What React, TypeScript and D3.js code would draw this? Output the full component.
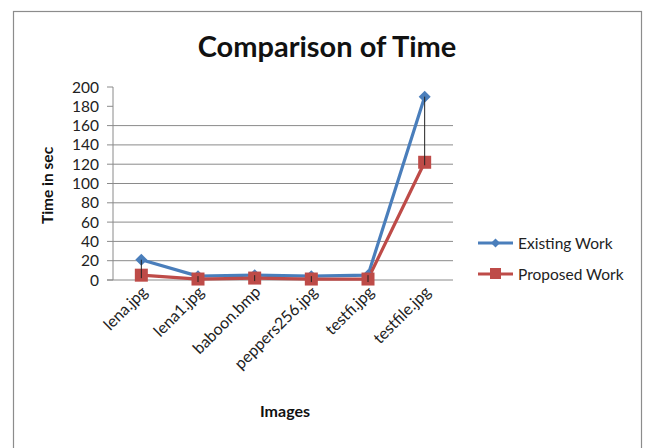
import React from "react";
import * as d3 from "d3";

const categories = ["lena.jpg", "lena1.jpg", "baboon.bmp", "peppers256.jpg", "testfi.jpg", "testfile.jpg"];
const existingWork = [21, 4, 5, 4, 5, 190];
const proposedWork = [5, 1, 2, 1, 1, 122];
const yTicks = [0, 20, 40, 60, 80, 100, 120, 140, 160, 180, 200];
const gridTicks = [20, 40, 60, 80, 100, 120, 140, 160];

const W = 648;
const H = 448;
const left = 113;
const right = 453;
const top = 87;
const bottom = 280;
const font = "Lato, 'Open Sans', sans-serif";
const blue = "#4A7EBB";
const red = "#BE4B48";

export default function App() {
  const x = d3.scaleBand<string>().domain(categories).range([left, right]);
  const y = d3.scaleLinear().domain([0, 200]).range([bottom, top]);
  const cx = (c: string) => (x(c) ?? 0) + x.bandwidth() / 2;
  const line = d3
    .line<number>()
    .x((_, i) => cx(categories[i]))
    .y((d) => y(d));
  const diamond = (px: number, py: number, r: number) =>
    `M${px},${py - r}L${px + r},${py}L${px},${py + r}L${px - r},${py}Z`;

  return (
    <svg width={W} height={H} style={{ position: "absolute", left: 0, top: 0, background: "#fff" }}>
      <rect x={0} y={0} width={W} height={H} fill="#fff" />
      <rect x={13.5} y={11.5} width={628} height={460} fill="none" stroke="#8c8c8c" strokeWidth={1.2} />
      <text x={327} y={57} textAnchor="middle" fontFamily={font} fontWeight="bold" fontSize={29} fill="#111">
        Comparison of Time
      </text>
      {gridTicks.map((t) => (
        <line key={t} x1={left} x2={right} y1={y(t)} y2={y(t)} stroke="#8a8a8a" strokeWidth={1} />
      ))}
      {yTicks.map((t) => (
        <line key={"tk" + t} x1={left - 6} x2={left} y1={y(t)} y2={y(t)} stroke="#8a8a8a" strokeWidth={1} />
      ))}
      <line x1={left} x2={left} y1={top} y2={bottom} stroke="#8a8a8a" strokeWidth={1} />
      <line x1={left - 6} x2={right} y1={bottom} y2={bottom} stroke="#8a8a8a" strokeWidth={1} />
      {yTicks.map((t) => (
        <text key={"yl" + t} x={99} y={y(t) + 5.5} textAnchor="end" fontFamily={font} fontSize={15.5} fill="#222">
          {t}
        </text>
      ))}
      <text
        transform={`translate(53,${(top + bottom) / 2 + 2}) rotate(-90)`}
        textAnchor="middle"
        fontFamily={font}
        fontWeight="bold"
        fontSize={15.5}
        fill="#111"
      >
        Time in sec
      </text>
      {categories.map((c) => (
        <text
          key={c}
          transform={`translate(${cx(c) + 7},${bottom + 13}) rotate(-45)`}
          textAnchor="end"
          fontFamily={font}
          fontSize={16}
          fill="#222"
        >
          {c}
        </text>
      ))}
      <text x={285} y={417} textAnchor="middle" fontFamily={font} fontWeight="bold" fontSize={16} fill="#111">
        Images
      </text>
      <path d={line(existingWork) ?? ""} fill="none" stroke={blue} strokeWidth={3.2} strokeLinejoin="round" />
      <path d={line(proposedWork) ?? ""} fill="none" stroke={red} strokeWidth={3.2} strokeLinejoin="round" />
      {categories.map((c, i) => (
        <path key={"d" + c} d={diamond(cx(c), y(existingWork[i]), 6)} fill={blue} />
      ))}
      {categories.map((c, i) => (
        <rect key={"s" + c} x={cx(c) - 6.5} y={y(proposedWork[i]) - 6.5} width={13} height={13} fill={red} />
      ))}
      {categories.map((c, i) => (
        <line
          key={"hl" + c}
          x1={cx(c)}
          x2={cx(c)}
          y1={y(existingWork[i])}
          y2={y(proposedWork[i]) + 3}
          stroke="#222"
          strokeWidth={1}
        />
      ))}
      <g>
        <line x1={478} x2={513} y1={243} y2={243} stroke={blue} strokeWidth={3} />
        <path d={diamond(495.5, 243, 4.5)} fill={blue} />
        <text x={518} y={248.5} fontFamily={font} fontSize={15.5} fill="#222">
          Existing Work
        </text>
        <line x1={478} x2={513} y1={274} y2={274} stroke={red} strokeWidth={3} />
        <rect x={490} y={268} width={11} height={11} fill={red} />
        <text x={518} y={279.5} fontFamily={font} fontSize={15.5} fill="#222">
          Proposed Work
        </text>
      </g>
    </svg>
  );
}
